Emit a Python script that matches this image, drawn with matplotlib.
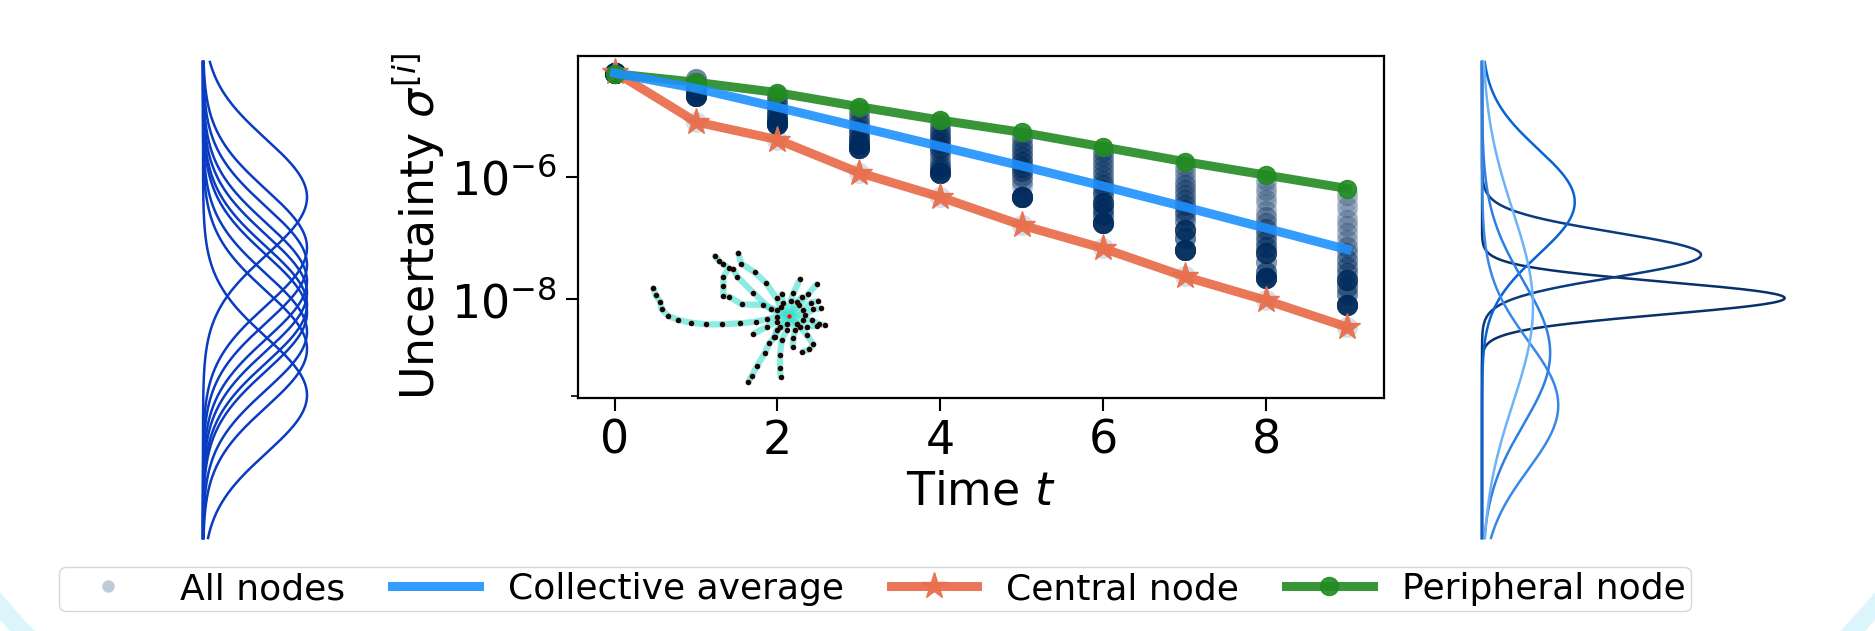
import matplotlib
matplotlib.use("Agg")
import matplotlib.pyplot as plt
import numpy as np
from matplotlib.lines import Line2D
from matplotlib.patches import Wedge
from matplotlib.ticker import FixedLocator, NullFormatter

# time steps
steps = np.arange(10)

# log10 of the uncertainty
collective_log = [-4.30, -4.55, -4.86, -5.18, -5.50, -5.82, -6.15, -6.49, -6.84, -7.19]
central_log = [-4.28, -5.10, -5.39, -5.93, -6.33, -6.79, -7.17, -7.63, -8.02, -8.46]
peripheral_log = [-4.31, -4.45, -4.62, -4.85, -5.07, -5.27, -5.51, -5.75, -5.97, -6.19]

# all nodes: levels seen in each column and roughly how many nodes sit on each
node_levels = [
    [-4.30],
    [-4.40, -4.47, -4.54, -4.61, -4.68],
    [-4.68, -4.76, -4.84, -4.92, -5.00, -5.08, -5.14],
    [-4.90, -4.98, -5.06, -5.14, -5.22, -5.30, -5.38, -5.46, -5.52],
    [-5.12, -5.20, -5.28, -5.36, -5.44, -5.52, -5.60, -5.68, -5.76, -5.82, -5.87, -5.93],
    [-5.35, -5.43, -5.51, -5.59, -5.67, -5.75, -5.83, -5.91, -5.99, -6.07, -6.15, -6.33],
    [-5.58, -5.66, -5.74, -5.82, -5.90, -5.98, -6.06, -6.14, -6.22, -6.30, -6.43, -6.52,
     -6.62, -6.75],
    [-5.82, -5.90, -5.98, -6.06, -6.14, -6.22, -6.30, -6.38, -6.46, -6.54, -6.62, -6.72,
     -6.87, -7.00, -7.20],
    [-6.05, -6.13, -6.21, -6.29, -6.37, -6.45, -6.55, -6.65, -6.75, -6.85, -6.95, -7.05,
     -7.15, -7.25, -7.40, -7.55, -7.66],
    [-6.30, -6.40, -6.50, -6.60, -6.70, -6.80, -6.92, -7.03, -7.14, -7.25, -7.36, -7.47,
     -7.58, -7.69, -7.80, -7.92, -8.10],
]
node_counts = [
    [40],
    [5, 5, 6, 8, 20],
    [4, 4, 5, 6, 8, 10, 20],
    [3, 3, 3, 4, 5, 6, 8, 10, 18],
    [3, 4, 5, 6, 6, 6, 4, 3, 3, 4, 5, 18],
    [3, 3, 4, 4, 4, 5, 5, 5, 4, 3, 2, 20],
    [3, 3, 3, 3, 3, 3, 3, 4, 4, 5, 12, 6, 6, 18],
    [2, 2, 2, 2, 3, 3, 3, 3, 4, 4, 4, 4, 12, 6, 18],
    [2, 1, 2, 1, 2, 1, 2, 3, 3, 4, 4, 4, 5, 12, 4, 6, 18],
    [2, 1, 2, 1, 2, 2, 2, 2, 3, 3, 4, 4, 4, 12, 5, 5, 18],
]

# inset network: branches leaving the central node (layout positions)
net_center = (508, 287)
net_branches = [
    [(470, 290), (440, 298), (408, 305), (360, 310), (306, 313), (258, 313), (213, 308),
     (175, 300), (145, 288), (125, 268), (120, 245), (107, 225), (100, 205)],
    [(470, 270), (430, 255), (365, 253), (328, 230), (310, 228), (310, 198), (310, 170),
     (327, 145), (310, 133), (297, 122), (285, 108)],
    [(482, 262), (470, 235), (437, 188), (404, 157), (364, 131), (355, 100)],
    [(452, 268), (400, 218), (352, 170), (340, 148)],
    [(512, 242), (520, 220), (540, 178)],
    [(538, 255), (565, 222), (590, 193)],
    [(550, 270), (572, 248), (595, 243)],
    [(555, 285), (580, 268), (602, 265)],
    [(548, 300), (575, 300), (597, 312), (614, 316)],
    [(540, 320), (560, 345), (580, 373), (568, 388), (547, 396)],
    [(525, 330), (520, 355), (518, 380)],
    [(500, 330), (485, 360), (480, 405), (480, 443), (482, 470)],
    [(480, 320), (465, 350), (448, 370), (435, 398), (412, 437), (395, 468), (385, 486)],
    [(470, 305), (440, 320), (400, 342)],
    [(490, 250), (485, 222)],
    [(530, 245), (545, 232)],
    [(500, 312), (470, 330), (462, 352)],
    [(530, 312), (560, 320), (590, 318)],
]

# density panels: peak position (0 top .. 1 bottom) and width
left_means = [0.284, 0.390, 0.426, 0.460, 0.485, 0.510, 0.527, 0.567, 0.603, 0.700]
left_sigma = 0.122
right_means = [0.496, 0.405, 0.294, 0.721, 0.611, 0.515]
right_sigmas = [0.034, 0.047, 0.111, 0.135, 0.151, 0.202]
right_colors = ["#08306b", "#0b3a7e", "#0a63d2", "#3a88e6", "#2f7fe0", "#6eb2f8"]

W, H = 1875, 631
fig = plt.figure(figsize=(W / 100, H / 100), dpi=100)

# light decorative arcs in the bottom corners
for cx, t1, t2 in [(7.0, 200, 250), (11.75, 290, 340)]:
    fig.patches.append(Wedge((cx, 6.31), 9.35, t1, t2, width=0.18, facecolor="#dcf4fb",
                             edgecolor="none", transform=fig.dpi_scale_trans, zorder=0))

# main panel
ax = fig.add_axes([578 / W, 1 - 398 / H, (1384 - 578) / W, (398 - 56) / H])
xs = np.concatenate([np.full(sum(c), t) for t, c in zip(steps, node_counts)] + [steps])
ys = np.concatenate([np.repeat(lv, c) for lv, c in zip(node_levels, node_counts)] + [central_log])
ax.scatter(xs, 10.0 ** ys, s=230, color="#002b5e", alpha=0.15, linewidths=0, zorder=1)
ax.plot(steps, 10.0 ** np.array(central_log), "-*", color="#e8704f", lw=6.5, ms=20,
        alpha=0.95, zorder=2)
ax.plot(steps, 10.0 ** np.array(peripheral_log), "-o", color="forestgreen", lw=6.5, ms=13,
        alpha=0.9, zorder=3)
ax.plot(steps, 10.0 ** np.array(collective_log), "-", color="dodgerblue", lw=6.5,
        alpha=0.9, zorder=4)

ax.set_yscale("log")
ax.set_xlim(-0.45, 9.45)
ax.set_ylim(10 ** -9.62, 10 ** -4.02)
ax.set_xticks([0, 2, 4, 6, 8])
ax.yaxis.set_major_locator(FixedLocator([1e-6, 1e-8]))
ax.yaxis.set_minor_locator(FixedLocator([2.6e-10]))
ax.yaxis.set_minor_formatter(NullFormatter())
ax.tick_params(which="major", labelsize=33, length=9, width=1.5, pad=6)
ax.tick_params(which="minor", length=5, width=1.2)
for s in ax.spines.values():
    s.set_linewidth(1.6)
ax.set_xlabel(r"Time $t$", fontsize=33, labelpad=4)
ax.set_ylabel(r"Uncertainty $\sigma^{[i]}$", fontsize=33, labelpad=4)

# network inset
net = fig.add_axes([620 / W, 1 - 400 / H, 250 / W, 180 / H])
net.patch.set_alpha(0)
net.set_xlim(0, 750)
net.set_ylim(540, 0)
net.axis("off")
for br in net_branches:
    pts = np.array([net_center] + br)
    net.plot(pts[:, 0], pts[:, 1], color="#40e0d0", alpha=0.6, lw=4.5,
             solid_capstyle="round", zorder=1)
    net.scatter(pts[1:, 0], pts[1:, 1], s=16, color="#220000", zorder=2, linewidths=0)
net.scatter([net_center[0]], [net_center[1]], s=10, color="red", zorder=3, linewidths=0)

# left density panel
u = np.linspace(0, 1, 600)
axl = fig.add_axes([203 / W, 1 - 538 / H, 104 / W, 476 / H])
for m in left_means:
    axl.plot(np.exp(-(u - m) ** 2 / (2 * left_sigma ** 2)), u, color="#0a3cc2", lw=1.8,
             clip_on=False)
axl.set_xlim(0, 1)
axl.set_ylim(1, 0)
axl.axis("off")

# right density panel
axr = fig.add_axes([1482 / W, 1 - 538 / H, 360 / W, 476 / H])
for m, sd, c in zip(right_means, right_sigmas, right_colors):
    pdf = np.exp(-(u - m) ** 2 / (2 * sd ** 2)) / (sd * np.sqrt(2 * np.pi))
    axr.plot(pdf, u, color=c, lw=1.8, clip_on=False)
axr.set_xlim(0, 360 / 25.8)
axr.set_ylim(1, 0)
axr.axis("off")

# legend along the bottom
handles = [
    Line2D([], [], ls="none", marker="o", ms=9, color="#003366", alpha=0.25, mew=0),
    Line2D([], [], color="dodgerblue", lw=6.5, alpha=0.9),
    Line2D([], [], color="#e8704f", lw=6.5, marker="*", ms=20, alpha=0.95),
    Line2D([], [], color="forestgreen", lw=6.5, marker="o", ms=13, alpha=0.9),
]
labels = ["All nodes", "Collective average", "Central node", "Peripheral node"]
fig.legend(handles, labels, ncol=4, loc="center", bbox_to_anchor=(875 / W, 1 - 589 / H),
           fontsize=26, handlelength=2.4, handletextpad=0.8, columnspacing=1.3,
           borderpad=0.15, frameon=True)

fig.savefig("out.png", dpi=100)
